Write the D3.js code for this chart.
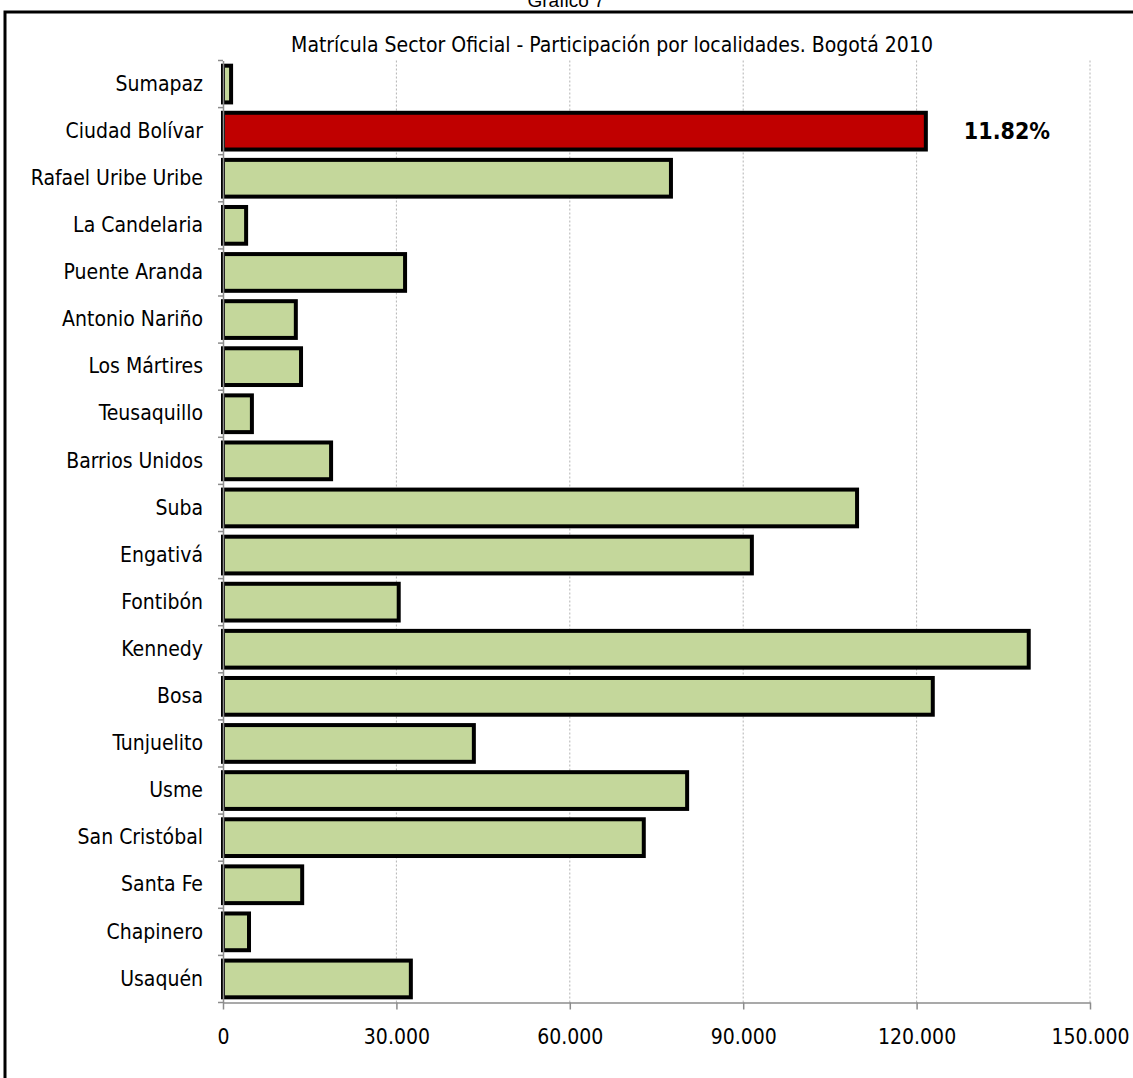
<!DOCTYPE html>
<html>
<head>
<meta charset="utf-8">
<script src="https://cdn.jsdelivr.net/npm/d3@7"></script>
<style>
    body { margin: 0; background: #fff; }
    svg { display: block; }
    .lbl { font-family: "Liberation Sans Narrow", "DejaVu Sans Condensed", sans-serif; fill: #000; }
</style>
</head>
<body>
<div id="chart"></div>
<script>
// datos (de arriba hacia abajo)
var localidades = ["Sumapaz", "Ciudad Bolívar", "Rafael Uribe Uribe", "La Candelaria", "Puente Aranda",
    "Antonio Nariño", "Los Mártires", "Teusaquillo", "Barrios Unidos", "Suba", "Engativá", "Fontibón",
    "Kennedy", "Bosa", "Tunjuelito", "Usme", "San Cristóbal", "Santa Fe", "Chapinero", "Usaquén"];
var matricula = [1400, 121600, 77500, 4000, 31500, 12600, 13500, 5000, 18700, 109700,
    91500, 30400, 139400, 122800, 43400, 80300, 72800, 13700, 4500, 32500];
var destacada = "Ciudad Bolívar";
var etiquetaDestacada = "11.82%";
var xTicks = [0, 30000, 60000, 90000, 120000, 150000];
var titulo = "Matrícula Sector Oficial - Participación por localidades.  Bogotá 2010";
var tituloGrafico = "Gráfico 7";

var data = localidades.map(function (d, i) {
    return {loc: d, value: matricula[i]};
});

// dimensiones
var W = 1133, H = 1078;
var margin = {top: 60.5, right: 43, bottom: 75.5, left: 223},
    width = W - margin.left - margin.right,
    height = H - margin.top - margin.bottom;

var fmt = d3.formatLocale({decimal: ",", thousands: ".", grouping: [3], currency: ["", ""]}).format(",d");

var x = d3.scaleLinear().domain([0, 150000]).range([0, width]);
var y = d3.scaleBand().domain(localidades).range([0, height]).paddingInner(0.22).paddingOuter(0.11);

var root = d3.select("#chart").append("svg")
    .attr("width", W)
    .attr("height", H);

// marco exterior
root.append("path")
    .attr("d", "M5," + H + " L5,12 L" + W + ",12")
    .attr("fill", "none")
    .attr("stroke", "#000")
    .attr("stroke-width", 3);

root.append("text")
    .attr("x", 566)
    .attr("y", 7)
    .attr("text-anchor", "middle")
    .style("font-family", "Liberation Sans, Arial, sans-serif")
    .style("font-size", "19px")
    .text(tituloGrafico);

root.append("text")
    .attr("class", "lbl")
    .attr("x", 612)
    .attr("y", 52)
    .attr("text-anchor", "middle")
    .style("font-size", "21px")
    .text(titulo);

var svg = root.append("g")
    .attr("transform", "translate(" + margin.left + "," + margin.top + ")");

// grid vertical punteado
svg.append("g")
    .selectAll("line")
    .data(xTicks.slice(1))
    .enter().append("line")
    .attr("x1", function (d) { return x(d); })
    .attr("x2", function (d) { return x(d); })
    .attr("y1", 0)
    .attr("y2", height)
    .attr("stroke", "#b3b3b3")
    .attr("stroke-width", 1)
    .attr("stroke-dasharray", "2,2");

// barras
svg.selectAll("rect.bar")
    .data(data)
    .enter().append("rect")
    .attr("class", "bar")
    .attr("x", 0)
    .attr("y", function (d) { return y(d.loc); })
    .attr("width", function (d) { return x(d.value); })
    .attr("height", y.bandwidth())
    .style("fill", function (d) { return d.loc === destacada ? "#c00000" : "#c4d79b"; })
    .style("stroke", "#000")
    .style("stroke-width", 4);

// etiqueta de la barra destacada
var dd = data.filter(function (d) { return d.loc === destacada; })[0];
svg.append("text")
    .attr("class", "lbl")
    .attr("x", x(dd.value) + 38)
    .attr("y", y(dd.loc) + y.bandwidth() / 2)
    .attr("dy", "0.35em")
    .style("font-size", "23px")
    .style("font-weight", "bold")
    .text(etiquetaDestacada);

// eje Y
var yAxis = svg.append("g")
    .call(d3.axisLeft(y).tickSize(0).tickPadding(20));
yAxis.select(".domain").attr("stroke", "#8c8c8c").attr("stroke-width", 1.5);
yAxis.selectAll("text")
    .attr("class", "lbl")
    .style("font-size", "21px");

// marcas entre categorias
svg.append("g")
    .selectAll("line")
    .data(d3.range(localidades.length + 1))
    .enter().append("line")
    .attr("x1", -5)
    .attr("x2", 0)
    .attr("y1", function (i) { return i * y.step() ; })
    .attr("y2", function (i) { return i * y.step() ; })
    .attr("transform", "translate(0," + (y(localidades[0]) - y.step() * y.paddingInner() / 2) + ")")
    .attr("stroke", "#8c8c8c")
    .attr("stroke-width", 1.5);

// eje X
var xAxis = svg.append("g")
    .attr("transform", "translate(0," + height + ")")
    .call(d3.axisBottom(x).tickValues(xTicks).tickFormat(fmt).tickSize(7).tickPadding(20).tickSizeOuter(0));
xAxis.select(".domain").attr("stroke", "#8c8c8c").attr("stroke-width", 1.5);
xAxis.selectAll(".tick line").attr("stroke", "#8c8c8c").attr("stroke-width", 1.5);
xAxis.selectAll("text")
    .attr("class", "lbl")
    .style("font-size", "21px");
</script>
</body>
</html>
